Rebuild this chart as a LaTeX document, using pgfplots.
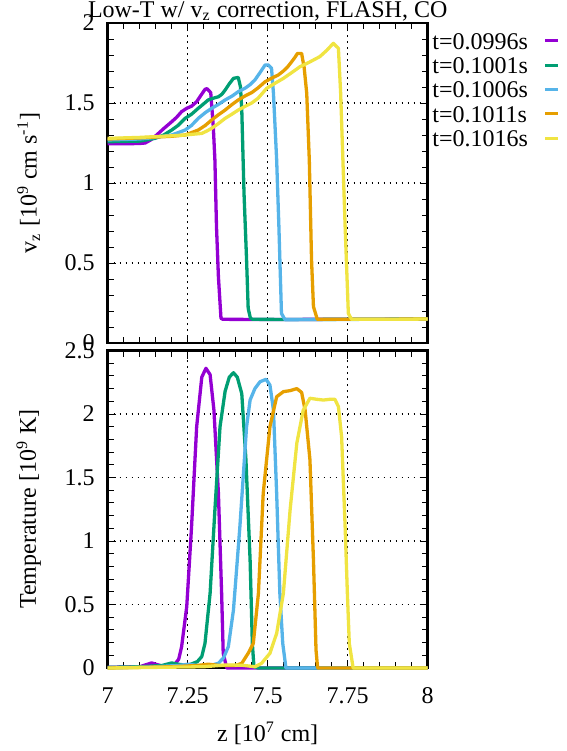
\documentclass[border=0pt]{standalone}
\usepackage{fontspec}
\setmainfont{Liberation Serif}
\usepackage{pgfplots}
\pgfplotsset{compat=1.18}
\definecolor{c1}{HTML}{9400D3}
\definecolor{c2}{HTML}{009E73}
\definecolor{c3}{HTML}{56B4E9}
\definecolor{c4}{HTML}{E69F00}
\definecolor{c5}{HTML}{F0E442}

\pgfplotsset{
  gp/.style={
    scale only axis,
    width=160pt,
    xmin=7, xmax=8,
    xtick={7,7.25,7.5,7.75,8},
    minor x tick num=4,
    minor y tick num=4,
    tick align=inside,
    xtick pos=both, ytick pos=both,
    major tick length=4pt,
    minor tick length=3pt,
    every tick/.style={black, line width=0.5pt},
    axis line style={black, line width=1.2pt},
    grid=major,
    major grid style={black, line width=0.6pt, dash pattern=on 0.8pt off 2.2pt},
    /pgf/number format/assume math mode=true,
    xticklabel style={anchor=base, inner sep=0pt, yshift=-17.5pt},
    yticklabel style={anchor=east, inner sep=0pt, xshift=-6.35pt},
    clip=false,
    every axis plot/.append style={line width=1.65pt, line join=round, no marks},
  }
}

\begin{document}
\fontsize{12pt}{14pt}\selectfont
\begin{tikzpicture}
\path[use as bounding box] (0,0) rectangle (283.5pt,-375.5pt);

% upper panel: velocity
\begin{axis}[gp,
    at={(53.85pt,-171.5pt)}, anchor=south west,
    height=160pt,
    ymin=0, ymax=2,
    ytick={0,0.5,1,1.5,2},
    xticklabels={},
    title={Low-T w/ v\textsubscript{z} correction, FLASH, CO},
    every axis title shift=0pt,
    title style={at={(axis description cs:0.5,1)}, anchor=base, inner sep=0pt, yshift=3pt},
    ylabel={v\textsubscript{z} [10\textsuperscript{9} cm s\textsuperscript{-1}]},
    ylabel style={at={(axis description cs:-0.247,0.5)}, anchor=center},
    legend style={at={(axis description cs:1.0134,0.972)}, anchor=north west,
        draw=none, fill=none, inner sep=0pt, row sep=3.65pt, column sep=8pt,
        nodes={inner sep=0pt, text height=8.5pt, text depth=0pt}},
    legend plot pos=right,
    legend cell align=left,
    legend image code/.code={\draw[#1, line width=1.5pt] (0pt,0pt) -- (6.5pt,0pt);},
]
\addplot[c1] coordinates {
(7.00,1.245)(7.05,1.245)(7.10,1.247)(7.117,1.25)(7.135,1.27)(7.153,1.30)(7.175,1.34)
(7.20,1.383)(7.215,1.41)(7.231,1.446)(7.247,1.467)(7.262,1.480)(7.278,1.508)(7.292,1.55)
(7.304,1.585)(7.310,1.590)(7.322,1.565)(7.330,1.352)(7.335,1.144)(7.340,0.727)(7.346,0.414)
(7.354,0.154)(7.36,0.148)(7.5,0.147)(7.7,0.148)(8.0,0.150)
};
\addlegendentry{t=0.0996s}
\addplot[c2] coordinates {
(7.00,1.258)(7.10,1.262)(7.148,1.279)(7.175,1.30)(7.20,1.331)(7.22,1.36)(7.242,1.404)
(7.262,1.43)(7.283,1.467)(7.300,1.495)(7.314,1.519)(7.330,1.530)(7.346,1.539)(7.357,1.555)
(7.367,1.581)(7.380,1.620)(7.393,1.654)(7.408,1.660)(7.415,1.60)(7.419,1.456)(7.426,0.935)
(7.434,0.519)(7.439,0.217)(7.446,0.155)(7.453,0.148)(7.6,0.147)(8.0,0.150)
};
\addlegendentry{t=0.1001s}
\addplot[c3] coordinates {
(7.00,1.269)(7.10,1.275)(7.15,1.285)(7.20,1.30)(7.242,1.331)(7.262,1.36)(7.283,1.404)
(7.305,1.44)(7.325,1.467)(7.345,1.49)(7.367,1.519)(7.39,1.545)(7.408,1.571)(7.429,1.592)
(7.445,1.615)(7.46,1.644)(7.476,1.69)(7.492,1.738)(7.502,1.738)(7.512,1.717)(7.518,1.56)
(7.528,1.144)(7.535,0.727)(7.543,0.185)(7.554,0.146)(7.7,0.147)(8.0,0.150)
};
\addlegendentry{t=0.1006s}
\addplot[c4] coordinates {
(7.00,1.275)(7.10,1.282)(7.20,1.292)(7.242,1.30)(7.283,1.331)(7.305,1.36)(7.325,1.394)
(7.345,1.425)(7.367,1.456)(7.388,1.49)(7.408,1.519)(7.43,1.545)(7.45,1.565)(7.47,1.595)
(7.492,1.633)(7.512,1.655)(7.533,1.675)(7.549,1.700)(7.562,1.725)(7.575,1.758)(7.585,1.785)
(7.593,1.810)(7.606,1.810)(7.614,1.72)(7.622,1.56)(7.630,1.144)(7.637,0.519)(7.643,0.227)
(7.655,0.148)(7.8,0.148)(8.0,0.150)
};
\addlegendentry{t=0.1011s}
\addplot[c5] coordinates {
(7.00,1.279)(7.10,1.285)(7.20,1.295)(7.242,1.30)(7.294,1.31)(7.31,1.325)(7.325,1.342)
(7.345,1.37)(7.367,1.404)(7.388,1.43)(7.408,1.456)(7.43,1.48)(7.45,1.50)(7.47,1.53)
(7.497,1.592)(7.52,1.62)(7.549,1.654)(7.575,1.69)(7.601,1.727)(7.63,1.755)(7.663,1.790)
(7.685,1.83)(7.705,1.873)(7.721,1.842)(7.728,1.56)(7.735,1.144)(7.742,0.727)(7.752,0.185)
(7.762,0.148)(7.9,0.148)(8.0,0.150)
};
\addlegendentry{t=0.1016s}
\end{axis}

% lower panel: temperature
\begin{axis}[gp,
    at={(53.85pt,-334pt)}, anchor=south west,
    height=158.75pt,
    ymin=0, ymax=2.5,
    ytick={0,0.5,1,1.5,2,2.5},
    xlabel={z [10\textsuperscript{7} cm]},
    xlabel style={at={(axis description cs:0.5,-0.230)}, anchor=base, inner sep=0pt},
    ylabel={Temperature [10\textsuperscript{9} K]},
    ylabel style={at={(axis description cs:-0.247,0.5)}, anchor=center},
]
\addplot[c1] coordinates {
(7.00,0.005)(7.05,0.008)(7.10,0.01)(7.125,0.03)(7.1375,0.04)(7.15,0.03)(7.17,0.015)
(7.21,0.03)(7.222,0.07)(7.231,0.168)(7.247,0.483)(7.262,1.11)(7.278,1.90)(7.294,2.29)
(7.307,2.36)(7.320,2.31)(7.332,2.03)(7.346,1.375)(7.356,0.588)(7.361,0.116)(7.372,0.0)(8.0,0.0)
};
\addplot[c2] coordinates {
(7.00,0.005)(7.10,0.01)(7.17,0.02)(7.20,0.04)(7.22,0.03)(7.25,0.02)(7.28,0.05)(7.294,0.09)
(7.304,0.194)(7.320,0.588)(7.335,1.244)(7.351,1.90)(7.367,2.18)(7.380,2.29)(7.393,2.325)
(7.405,2.29)(7.419,2.16)(7.432,1.64)(7.445,0.85)(7.452,0.194)(7.457,0.01)(7.47,0.0)(8.0,0.0)
};
\addplot[c3] coordinates {
(7.00,0.0)(7.15,0.01)(7.22,0.02)(7.252,0.03)(7.28,0.02)(7.32,0.02)(7.346,0.037)(7.362,0.08)
(7.377,0.168)(7.393,0.457)(7.413,1.11)(7.434,1.90)(7.445,2.11)(7.46,2.20)(7.476,2.254)
(7.495,2.273)(7.507,2.228)(7.518,2.03)(7.528,1.375)(7.538,0.588)(7.547,0.194)(7.557,0.0)(8.0,0.0)
};
\addplot[c4] coordinates {
(7.00,0.0)(7.20,0.01)(7.28,0.02)(7.314,0.03)(7.35,0.02)(7.40,0.02)(7.419,0.037)(7.44,0.12)
(7.455,0.194)(7.471,0.588)(7.486,1.375)(7.507,1.90)(7.528,2.136)(7.549,2.176)(7.570,2.184)
(7.591,2.20)(7.606,2.17)(7.617,2.03)(7.632,1.64)(7.643,0.85)(7.651,0.142)(7.656,0.0)(8.0,0.0)
};
\addplot[c5] coordinates {
(7.00,0.0)(7.30,0.01)(7.37,0.024)(7.42,0.022)(7.46,0.01)(7.481,0.037)(7.495,0.08)(7.507,0.116)
(7.528,0.273)(7.549,0.588)(7.570,1.244)(7.591,1.77)(7.611,2.03)(7.632,2.124)(7.653,2.116)
(7.674,2.11)(7.695,2.116)(7.710,2.116)(7.721,2.058)(7.731,1.82)(7.742,1.11)(7.749,0.588)
(7.755,0.194)(7.767,0.0)(8.0,0.0)
};
\end{axis}
\end{tikzpicture}
\end{document}
